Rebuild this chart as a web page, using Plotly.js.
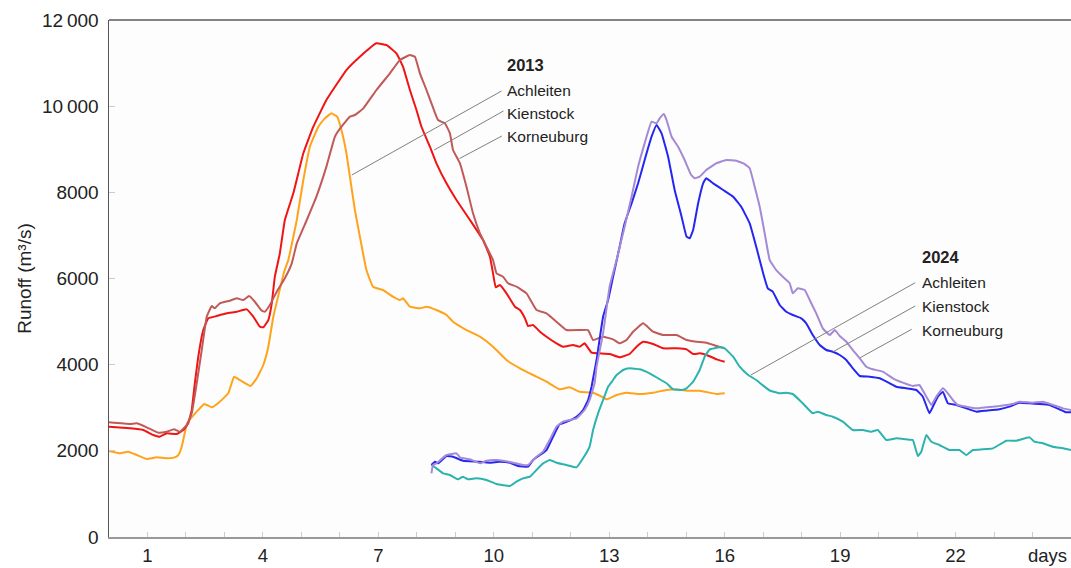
<!DOCTYPE html>
<html>
<head>
<meta charset="utf-8">
<script src="https://cdn.plot.ly/plotly-3.0.1.min.js"></script>
<style>html,body{margin:0;padding:0;background:#fff;}#chart{width:1071px;height:568px;}</style>
</head>
<body>
<div id="chart"></div>
<script>
// ---- 2013 flood (days since start) ----
const days2013Achleiten = [0,0.29,0.5,0.72,0.98,1.24,1.5,1.71,1.8,1.89,2.03,2.28,2.48,2.67,2.88,3.1,3.25,3.4,3.68,3.84,4.01,4.14,4.27,4.4,4.55,4.66,4.88,5.05,5.22,5.44,5.61,5.78,5.93,6.04,6.17,6.26,6.39,6.52,6.69,6.86,7.12,7.38,7.56,7.64,7.82,8.08,8.25,8.51,8.77,8.94,9.29,9.64,9.98,10.33,10.68,11.02,11.37,11.71,11.97,12.23,12.58,12.84,12.93,13.19,13.45,13.79,14.14,14.49,14.75,15.01,15.35,15.61,15.79,16.0];
const runoff2013Achleiten = [1996,1942,1980,1903,1810,1849,1826,1849,1900,2096,2638,2909,3087,3010,3140,3335,3721,3644,3505,3683,3992,4417,5113,5600,6150,6429,7358,8286,9059,9523,9717,9834,9756,9447,8906,8364,7590,6970,6197,5810,5733,5578,5500,5540,5345,5307,5345,5269,5153,4997,4804,4649,4417,4108,3915,3760,3605,3428,3474,3372,3350,3242,3196,3296,3350,3319,3350,3412,3428,3396,3396,3350,3319,3335];

const days2013Kienstock = [0,0.55,0.89,1.15,1.32,1.5,1.76,1.93,2.06,2.15,2.23,2.32,2.45,2.58,2.8,3.06,3.32,3.58,3.75,3.92,4.01,4.14,4.23,4.31,4.44,4.57,4.79,5.05,5.31,5.65,6.17,6.52,6.95,7.21,7.47,7.64,7.82,7.99,8.12,8.34,8.51,8.77,9.03,9.38,9.72,9.9,9.98,10.05,10.16,10.33,10.55,10.68,10.81,10.89,11.02,11.2,11.37,11.63,11.8,12.06,12.23,12.36,12.54,12.75,13.01,13.27,13.53,13.71,13.88,14.14,14.4,14.75,15.01,15.18,15.35,15.53,15.79,16.0];
const runoff2013Kienstock = [2560,2522,2483,2367,2328,2407,2390,2483,2638,2948,3567,4185,4804,5075,5129,5192,5229,5284,5113,4881,4867,5036,5424,6042,6584,7358,7977,8906,9523,10143,10839,11148,11459,11419,11227,10917,10375,9911,9523,9059,8673,8209,7822,7358,6893,6506,6120,5795,5849,5656,5345,5269,5075,4897,4920,4765,4649,4495,4417,4456,4417,4495,4278,4263,4247,4170,4247,4417,4533,4479,4379,4379,4355,4247,4263,4224,4124,4069];

const days2013Korneuburg = [0,0.55,0.72,0.98,1.28,1.5,1.69,1.84,2.02,2.15,2.28,2.41,2.54,2.67,2.75,2.88,3.14,3.32,3.49,3.64,3.79,3.97,4.05,4.18,4.36,4.57,4.75,4.88,5.14,5.39,5.65,5.87,6.04,6.26,6.39,6.61,6.95,7.3,7.56,7.82,7.95,8.08,8.25,8.38,8.55,8.73,8.86,8.94,9.12,9.29,9.46,9.64,9.81,9.98,10.07,10.24,10.37,10.59,10.85,11.11,11.37,11.63,11.89,12.23,12.45,12.58,12.84,13.1,13.27,13.45,13.62,13.88,14.14,14.4,14.75,15.01,15.27,15.53,15.79,16.0];
const runoff2013Korneuburg = [2662,2623,2638,2545,2421,2444,2499,2444,2599,2871,3567,4340,5113,5361,5307,5424,5485,5540,5500,5593,5461,5253,5229,5385,5694,6004,6352,6816,7358,7899,8596,9291,9523,9756,9795,9950,10375,10762,11071,11187,11148,10762,10375,10066,9679,9601,9369,8983,8673,8131,7513,7049,6738,6429,6120,6042,5888,5810,5656,5269,5192,4997,4804,4804,4804,4572,4649,4588,4495,4572,4765,4959,4765,4688,4688,4572,4533,4510,4433,4379];

// ---- 2024 flood ----
const days2024Achleiten = [8.38,8.51,8.68,8.86,9.07,9.2,9.33,9.55,9.81,10.07,10.42,10.59,10.76,10.94,11.11,11.28,11.45,11.63,11.89,12.15,12.32,12.49,12.58,12.71,12.84,12.97,13.1,13.19,13.36,13.53,13.79,14.05,14.27,14.49,14.66,14.88,15.01,15.18,15.35,15.48,15.61,15.87,16.0,16.22,16.39,16.61,16.82,16.99,17.17,17.43,17.6,17.77,18.03,18.29,18.42,18.64,18.81,19.07,19.33,19.59,19.81,19.98,20.2,20.46,20.72,20.89,21.02,21.11,21.24,21.37,21.58,21.84,22.1,22.28,22.45,22.71,22.97,23.32,23.58,23.92,24.05,24.27,24.53,24.79,25.0];
const runoff2024Achleiten = [1671,1594,1478,1439,1339,1400,1339,1362,1323,1230,1184,1284,1362,1400,1555,1710,1787,1725,1671,1617,1826,2096,2483,2871,3180,3488,3644,3760,3876,3915,3892,3799,3683,3567,3428,3412,3451,3605,3876,4185,4355,4402,4379,4185,3953,3760,3644,3520,3400,3335,3350,3319,3103,2871,2909,2832,2792,2676,2483,2483,2444,2483,2251,2290,2267,2251,1880,1980,2367,2212,2135,2019,2019,1903,2019,2035,2058,2235,2235,2313,2212,2174,2096,2058,2019];

const days2024Kienstock = [8.38,8.47,8.55,8.77,8.94,9.2,9.55,9.9,10.16,10.42,10.63,10.89,11.02,11.2,11.37,11.54,11.71,11.97,12.15,12.32,12.45,12.54,12.67,12.84,12.97,13.1,13.27,13.4,13.58,13.75,13.92,14.1,14.23,14.36,14.53,14.7,14.88,15.01,15.09,15.18,15.31,15.44,15.52,15.7,15.96,16.22,16.43,16.65,16.82,17.0,17.12,17.25,17.43,17.6,17.77,17.99,18.12,18.29,18.47,18.64,18.81,18.99,19.16,19.33,19.51,19.77,20.03,20.29,20.46,20.72,20.98,21.15,21.32,21.41,21.54,21.67,21.8,22.02,22.28,22.54,22.8,23.14,23.4,23.66,23.92,24.18,24.44,24.7,24.88,25.0];
const runoff2024Kienstock = [1671,1748,1710,1880,1864,1771,1748,1725,1748,1725,1648,1632,1787,1903,2019,2328,2616,2700,2792,2948,3180,3488,4108,5113,5500,6042,6738,7281,7745,8209,8750,9291,9563,9369,8827,8054,7436,6970,6932,7126,7745,8209,8325,8209,8054,7899,7667,7281,6738,6120,5772,5694,5385,5229,5153,5075,4959,4688,4456,4340,4301,4224,4108,3915,3737,3721,3683,3567,3488,3451,3412,3257,2871,3025,3257,3373,3103,3064,2986,2909,2932,2963,3025,3117,3103,3087,3064,2963,2894,2894];

const days2024Korneuburg = [8.38,8.42,8.51,8.77,9.03,9.12,9.38,9.64,9.81,10.07,10.24,10.5,10.76,10.89,11.11,11.28,11.45,11.63,11.8,11.97,12.15,12.36,12.49,12.62,12.67,12.84,13.01,13.19,13.4,13.58,13.75,13.92,14.1,14.23,14.31,14.42,14.49,14.62,14.79,14.96,15.13,15.22,15.35,15.52,15.78,16.04,16.3,16.52,16.65,16.78,16.91,17.04,17.17,17.34,17.51,17.69,17.77,17.9,18.08,18.21,18.38,18.55,18.73,18.86,18.99,19.16,19.33,19.51,19.68,19.85,20.11,20.37,20.63,20.89,21.06,21.24,21.37,21.5,21.67,21.8,21.93,22.06,22.28,22.54,22.8,23.14,23.49,23.66,24.01,24.27,24.53,24.79,25.0];
const runoff2024Korneuburg = [1478,1671,1710,1903,1942,1849,1803,1710,1771,1787,1771,1725,1671,1671,1864,1980,2251,2560,2676,2715,2754,2948,3180,3567,3953,4727,5810,6429,7202,7899,8596,9137,9640,9601,9717,9818,9679,9291,9059,8750,8402,8325,8364,8518,8673,8750,8734,8657,8557,8131,7667,7049,6429,6197,6042,5888,5656,5772,5733,5500,5192,4843,4688,4804,4665,4533,4340,4147,3953,3892,3837,3683,3582,3505,3528,3257,3064,3257,3451,3335,3180,3064,3025,2986,3010,3041,3087,3141,3117,3141,3064,2986,2948];

// ---- axis ticks and labels ----
const dayTickVals = [0,1,2,3,4,5,6,7,8,9,10,11,12,13,14,15,16,17,18,19,20,21,22,23,24];
const dayTickText = ['','1','','','4','','','7','','','10','','','13','','','16','','','19','','','22','',''];
const runoffTickVals = [0,2000,4000,6000,8000,10000,12000];
const runoffTickText = ['0','2000','4000','6000','8000','10\u2009000','12\u2009000'];
const stations = ['Achleiten','Kienstock','Korneuburg'];
const years = ['2013','2024'];

const FONT = 'Liberation Sans, Arial, Helvetica, sans-serif';
const colors = {
  '2013Achleiten':'#ffa31a', '2013Kienstock':'#f01414', '2013Korneuburg':'#c05a58',
  '2024Achleiten':'#2bb3ae', '2024Kienstock':'#2626f2', '2024Korneuburg':'#a48ad6'
};

const seriesData = {
  '2013Achleiten':[days2013Achleiten, runoff2013Achleiten],
  '2013Kienstock':[days2013Kienstock, runoff2013Kienstock],
  '2013Korneuburg':[days2013Korneuburg, runoff2013Korneuburg],
  '2024Achleiten':[days2024Achleiten, runoff2024Achleiten],
  '2024Kienstock':[days2024Kienstock, runoff2024Kienstock],
  '2024Korneuburg':[days2024Korneuburg, runoff2024Korneuburg]
};

const traces = [];
years.forEach(y => stations.forEach(s => {
  const k = y + s;
  traces.push({
    type:'scatter', mode:'lines', name: s + ' ' + y,
    x: seriesData[k][0], y: seriesData[k][1],
    line:{color: colors[k], width:2, shape:'spline', smoothing:0.3},
    hoverinfo:'skip'
  });
}));

// label placement (text anchor positions and leader-line endpoints, data units)
const labelLayout = {
  '2013': {x:10.29, head:10955, rows:[10359,9834,9291],
           lines:[[10.2,10352,6.31,8402],[10.25,9887,8.45,8982],[10.21,9307,9.11,8785]]},
  '2024': {x:21.08, head:6492, rows:[5902,5345,4804],
           lines:[[20.95,5902,16.68,3760],[20.95,5361,18.82,4301],[20.86,4821,19.52,4162]]}
};

const annotations = [];
const shapes = [{type:'line', xref:'paper', yref:'paper', x0:0, x1:1, y0:1, y1:1, line:{color:'#5a5a5a', width:1.5}}];
years.forEach(y => {
  const L = labelLayout[y];
  annotations.push({x:L.x, y:L.head, xref:'x', yref:'y', text:'<b>'+y+'</b>', showarrow:false, xanchor:'left', yanchor:'middle', font:{family:FONT, size:16.5, color:'#222'}});
  stations.forEach((s,i) => {
    annotations.push({x:L.x, y:L.rows[i], xref:'x', yref:'y', text:s, showarrow:false, xanchor:'left', yanchor:'middle', font:{family:FONT, size:15.5, color:'#222'}});
    const ln = L.lines[i];
    shapes.push({type:'line', xref:'x', yref:'y', x0:ln[0], y0:ln[1], x1:ln[2], y1:ln[3], line:{color:'#808080', width:1}});
  });
});
annotations.push({x:24.38, y:0, xref:'x', yref:'paper', text:'days', showarrow:false, xanchor:'center', yanchor:'middle', yshift:-18, font:{family:FONT, size:18.5, color:'#222'}});

const layout = {
  width:1071, height:568,
  margin:{l:109, r:0, t:20, b:31, pad:0},
  paper_bgcolor:'#ffffff', plot_bgcolor:'#fdfdfd',
  showlegend:false,
  font:{family:FONT, color:'#222'},
  xaxis:{range:[0,25], tickmode:'array', tickvals:dayTickVals, ticktext:dayTickText,
         ticks:'inside', ticklen:5, tickwidth:1, tickcolor:'#cccccc',
         showgrid:false, zeroline:false, showline:true, linecolor:'#999999', linewidth:2,
         tickfont:{family:FONT, size:18.5, color:'#222'}, ticklabelstandoff:1, fixedrange:true},
  yaxis:{range:[0,12000], tickmode:'array', tickvals:runoffTickVals, ticktext:runoffTickText,
         ticks:'inside', ticklen:6, tickwidth:1, tickcolor:'#cccccc',
         showgrid:false, zeroline:false, showline:true, linecolor:'#555555', linewidth:1.5,
         tickfont:{family:FONT, size:19, color:'#222'}, ticklabelstandoff:5,
         title:{text:'Runoff (m³/s)', font:{family:FONT, size:19, color:'#222'}, standoff:5}, fixedrange:true},
  annotations, shapes
};

Plotly.newPlot('chart', traces, layout, {displayModeBar:false, staticPlot:true});
</script>
</body>
</html>
